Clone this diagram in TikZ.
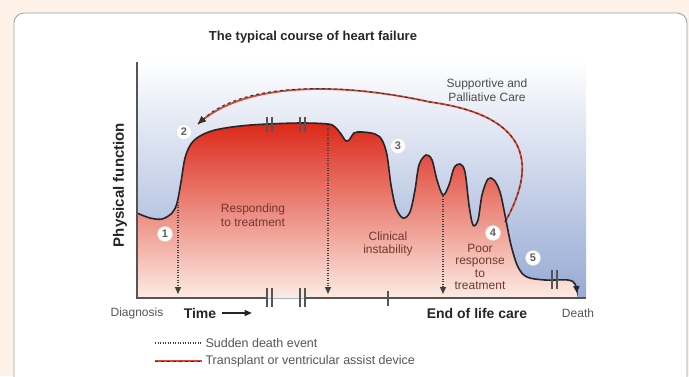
\documentclass[tikz,border=0pt]{standalone}
\usepackage{fontspec}
\setmainfont{Liberation Sans}
\usepackage{tikz}
\usetikzlibrary{arrows.meta,positioning}
\definecolor{peach}{RGB}{253,241,232}
\definecolor{framegray}{RGB}{160,160,160}
\definecolor{hfblue}{RGB}{150,170,212}
\definecolor{hfred}{RGB}{220,40,25}
\definecolor{hforange}{RGB}{238,112,82}
\definecolor{hfpale}{RGB}{252,236,228}
\definecolor{axisgray}{RGB}{85,85,85}
\definecolor{lblbrown}{RGB}{115,55,45}
\definecolor{arcred}{RGB}{214,72,52}
\newcommand{\lblfont}{\fontsize{12}{13.5}\selectfont}
\newcommand{\hfcurve}{plot[smooth, tension=0.55] coordinates {(137,213) (150,218) (162,219) (172,213) (177,203) (181,182) (185,158) (191,144) (200,136) (215,130) (240,126) (268,124) (302,123) (328,124) (335,127) (341,134) (346,141) (350,139) (354,133) (362,132) (375,134) (382,140) (387,155) (391,185) (396,208) (403,218) (410,212) (415,190) (419,165) (426,155) (432,160) (437,180) (443,195) (449,185) (454,168) (460,164) (465,172) (469,205) (473,225) (478,220) (482,195) (488,179) (494,180) (500,192) (505,215) (511,245) (518,267) (527,277) (545,280) (568,280) (575,284) (577,293)}}

\tikzset{
  numcirc/.style={circle, fill=white, draw=gray!25, inner sep=0pt, minimum size=15pt, font=\fontsize{11}{11}\selectfont\bfseries, text=gray!75!black},
  suddendeath/.style={black!75, line width=1.2pt, dash pattern=on 1.2pt off 1.3pt, -{Triangle[length=7pt,width=6pt]}},
  arcbase/.style={arcred, line width=1.8pt},
  arcdash/.style={black!80, line width=1pt, dash pattern=on 3pt off 3pt},
  breakbar/.style={axisgray, line width=1.2pt}
}

\begin{document}
\begin{tikzpicture}[x=1pt, y=-1pt]
\useasboundingbox (0,0) rectangle (689,376);
\clip (0,0) rectangle (689,376);
\fill[peach] (0,0) rectangle (689,376);
\draw[framegray, fill=white, rounded corners=10pt, line width=0.8pt] (14,13) rectangle (687,400);

\node[font=\fontsize{13}{15}\selectfont\bfseries, text=black!85] (title) at (313,37) {The typical course of heart failure};

\shade[top color=white, bottom color=hfblue] (137,60) rectangle (586,298);
\shade[top color=hfred, middle color=hforange, bottom color=hfpale] \hfcurve -- (577,298) -- (137,298) -- cycle;

\draw[arcbase] (505,222) .. controls (540,160) and (525,115) .. (430,102) .. controls (330,80) and (240,85) .. (198,124);
\coordinate (arcstart) at (505,222);
\coordinate (arcend) at (198,124);
\draw[arcdash, -{Triangle[length=8pt,width=7pt]}] (arcstart) .. controls (540,160) and (525,115) .. (430,102) .. controls (330,80) and (240,85) .. (arcend);

\draw[line width=1.6pt, black!85, -{Triangle[length=7pt,width=6pt]}] \hfcurve;

\foreach \bx in {267,300} {
  \draw[breakbar] (\bx,117) -- (\bx,132);
  \draw[breakbar] (\bx+5,117) -- (\bx+5,132);
  \draw[breakbar] (\bx,288) -- (\bx,307);
  \draw[breakbar] (\bx+5,288) -- (\bx+5,307);
}
\draw[breakbar] (552,270) -- (552,289);
\draw[breakbar] (557,270) -- (557,289);

\draw[axisgray, line width=1.1pt] (137,62) -- (137,298) -- (267,298);
\draw[axisgray, line width=1.1pt] (305,298) -- (586,298);
\draw[axisgray, line width=1.1pt] (388,291) -- (388,306);

\coordinate (sd1top) at (178,202);
\coordinate (sd1end) at (178,294);
\coordinate (sd2top) at (328,125);
\coordinate (sd2end) at (328,294);
\coordinate (sd3top) at (443,196);
\coordinate (sd3end) at (443,294);
\draw[suddendeath] (sd1top) -- (sd1end);
\draw[suddendeath] (sd2top) -- (sd2end);
\draw[suddendeath] (sd3top) -- (sd3end);

\node[font=\fontsize{15}{15}\selectfont\bfseries, text=black!85, rotate=90] (ylabel) at (120,185) {Physical function};

\node[font=\lblfont, text=black!70, align=center] (supportlbl) at (487,90) {Supportive and\\Palliative Care};
\node[font=\lblfont, text=lblbrown, align=center] (respondlbl) at (253,215) {Responding\\to treatment};
\node[font=\lblfont, text=lblbrown, align=center] (clinicallbl) at (388,244) {Clinical\\instability};
\node[font=\fontsize{12}{12.6}\selectfont, text=lblbrown, align=center] (poorlbl) at (480,267) {Poor\\response\\to\\treatment};

\node[numcirc] (n1) at (165,234) {1};
\node[numcirc] (n2) at (184,132) {2};
\node[numcirc] (n3) at (398,146) {3};
\node[numcirc] (n4) at (493,233) {4};
\node[numcirc] (n5) at (533,258) {5};

\node[font=\lblfont, text=axisgray] (diag) at (137,313) {Diagnosis};
\node[font=\fontsize{14}{14}\selectfont\bfseries, text=black!85] (timelbl) at (200,313) {Time};
\draw[line width=1.3pt, black!85, -{Triangle[length=7pt,width=6pt]}] ([xshift=2pt]timelbl.east) -- ++(30,0);
\node[font=\fontsize{14}{14}\selectfont\bfseries, text=black!85] (endlbl) at (477,313) {End of life care};
\node[font=\lblfont, text=axisgray] (deathlbl) at (578,313) {Death};

\coordinate (leg1a) at (155,343);
\coordinate (leg2a) at (155,361);
\node[font=\fontsize{12.5}{14}\selectfont, text=axisgray, anchor=west] (leg1) at (202,343) {Sudden death event};
\node[font=\fontsize{12.5}{14}\selectfont, text=axisgray, anchor=west] (leg2) at (202,361) {Transplant or ventricular assist device};
\draw[black!75, line width=1.1pt, dash pattern=on 1.2pt off 1.3pt] (leg1a) -- (leg1.west);
\draw[arcbase, line width=1.4pt] (leg2a) -- (leg2.west);
\draw[arcdash, line width=0.8pt] (leg2a) -- (leg2.west);
\end{tikzpicture}
\end{document}
